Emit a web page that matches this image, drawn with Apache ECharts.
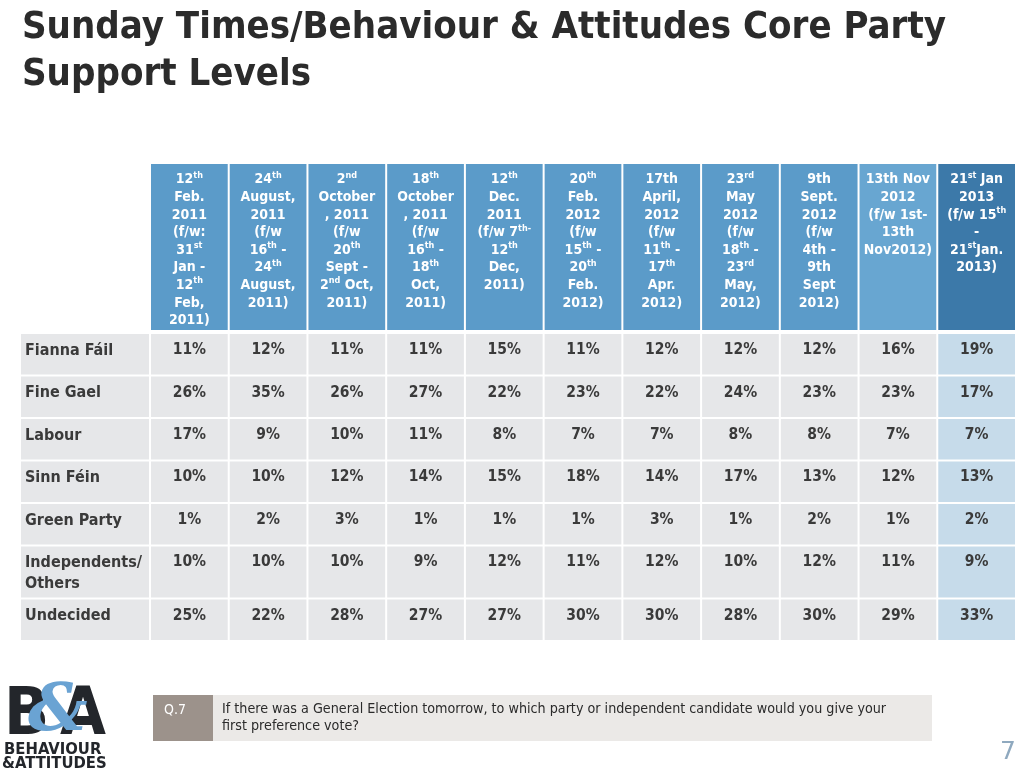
<!DOCTYPE html>
<html>
<head>
<meta charset="utf-8">
<script src="https://cdn.jsdelivr.net/npm/echarts@6/dist/echarts.min.js"></script>
<style>
html,body{margin:0;padding:0;background:#fff;}
#main{width:1024px;height:773px;}
</style>
</head>
<body>
<div id="main"></div>
<script>
// ---- data ----
var pollDates = ['12th Feb. 2011','24th August, 2011','2nd October, 2011','18th October, 2011','12th Dec. 2011','20th Feb. 2012','17th April, 2012','23rd May 2012','9th Sept. 2012','13th Nov 2012','21st Jan 2013'];
var headerLines = [
  ['12{s|th}','Feb.','2011','(f/w:','31{s|st}','Jan -','12{s|th}','Feb,','2011)'],
  ['24{s|th}','August,','2011','(f/w','16{s|th} -','24{s|th}','August,','2011)'],
  ['2{s|nd}','October',', 2011','(f/w','20{s|th}','Sept -','2{s|nd} Oct,','2011)'],
  ['18{s|th}','October',', 2011','(f/w','16{s|th} -','18{s|th}','Oct,','2011)'],
  ['12{s|th}','Dec.','2011','(f/w 7{s|th-}','12{s|th}','Dec,','2011)'],
  ['20{s|th}','Feb.','2012','(f/w','15{s|th} -','20{s|th}','Feb.','2012)'],
  ['17th','April,','2012','(f/w','11{s|th} -','17{s|th}','Apr.','2012)'],
  ['23{s|rd}','May','2012','(f/w','18{s|th} -','23{s|rd}','May,','2012)'],
  ['9th','Sept.','2012','(f/w','4th -','9th','Sept','2012)'],
  ['13th Nov','2012','(f/w 1st-','13th','Nov2012)'],
  ['21{s|st} Jan','2013','(f/w 15{s|th}','-','21{s|st}Jan.','2013)']
];
var parties = ['Fianna Fáil','Fine Gael','Labour','Sinn Féin','Green Party','Independents/\nOthers','Undecided'];
var fiannaFail   = [11,12,11,11,15,11,12,12,12,16,19];
var fineGael     = [26,35,26,27,22,23,22,24,23,23,17];
var labour       = [17,9,10,11,8,7,7,8,8,7,7];
var sinnFein     = [10,10,12,14,15,18,14,17,13,12,13];
var greenParty   = [1,2,3,1,1,1,3,1,2,1,2];
var independents = [10,10,10,9,12,11,12,10,12,11,9];
var undecided    = [25,22,28,27,27,30,30,28,30,29,33];
var partyValues = [fiannaFail, fineGael, labour, sinnFein, greenParty, independents, undecided];

// ---- layout (not data) ----
var rowWeights = [1,1,1,1,1,1.25,1];
var rowStart = [];
(function(){ var s = 0; for (var i = 0; i < rowWeights.length; i++) { rowStart.push(s); s += rowWeights[i]; } })();
var rowTotal = rowStart[rowStart.length-1] + rowWeights[rowWeights.length-1];

var FONT = '"DejaVu Sans Condensed", "DejaVu Sans", sans-serif';
var headerFills = ['#5b9bc9','#5b9bc9','#5b9bc9','#5b9bc9','#5b9bc9','#5b9bc9','#5b9bc9','#5b9bc9','#5b9bc9','#68a6d1','#3c79a9'];

var headerData = pollDates.map(function(d, i){ return [i, 0]; });
var cellData = [];
partyValues.forEach(function(arr, r){ arr.forEach(function(v, c){ cellData.push([c, r, v]); }); });
var labelData = parties.map(function(p, r){ return [0, r]; });

function renderHeader(params, api) {
  var c = api.value(0);
  var p = api.coord([c, 0]);
  var sz = api.size([1, 1]);
  var w = sz[0], h = sz[1];
  var x = p[0] - w/2, y = p[1] - h/2;
  return {type:'group', children:[
    {type:'rect', shape:{x:x+1, y:y, width:w-2, height:h}, style:{fill:headerFills[c]}},
    {type:'text', x: x + w/2, y: y + 7, style:{
      text: headerLines[c].map(function(l){ return '{n|' + l.replace(/\{s\|([^}]*)\}/g, '}{s|$1}{n|') + '}'; }).join('\n'),
      align:'center', verticalAlign:'top',
      rich:{
        n:{fontFamily:FONT, fontWeight:'bold', fontSize:14, lineHeight:17.6, fill:'#ffffff', color:'#ffffff'},
        s:{fontFamily:FONT, fontWeight:'bold', fontSize:9, lineHeight:17.6, verticalAlign:'top', fill:'#ffffff', color:'#ffffff'}
      }
    }}
  ]};
}

function renderCell(params, api) {
  var c = api.value(0), r = api.value(1);
  var p0 = api.coord([c, rowStart[r]]);
  var p1 = api.coord([c, rowStart[r] + rowWeights[r]]);
  var w = api.size([1, 0])[0];
  var x = p0[0] - w/2;
  return {type:'group', children:[
    {type:'rect', shape:{x:x+1, y:p0[1]+1, width:w-2, height:p1[1]-p0[1]-2}, style:{fill: c === 10 ? '#c6dbea' : '#e6e7e9'}},
    {type:'text', x: x + w/2, y: p0[1] + 17, style:{text: api.value(2) + '%', align:'center', verticalAlign:'middle', font:'bold 15.5px ' + FONT, fill:'#3a3a3a'}}
  ]};
}

function renderLabel(params, api) {
  var r = api.value(1);
  var p0 = api.coord([0, rowStart[r]]);
  var p1 = api.coord([0, rowStart[r] + rowWeights[r]]);
  var w = api.size([1, 0])[0];
  var x = p0[0] - w/2;
  return {type:'group', children:[
    {type:'rect', shape:{x:x+1, y:p0[1]+1, width:w-2, height:p1[1]-p0[1]-2}, style:{fill:'#e6e7e9'}},
    {type:'text', x: x + 5, y: p0[1] + 7, style:{text: parties[r], align:'left', verticalAlign:'top', font:'bold 16px ' + FONT, lineHeight:21, fill:'#3a3a3a'}}
  ]};
}

var chart = echarts.init(document.getElementById('main'), null, {renderer:'canvas'});
chart.setOption({
  backgroundColor:'#ffffff',
  animation:false,
  title:{
    text:'Sunday Times/Behaviour & Attitudes Core Party\nSupport Levels',
    left:17, top:0,
    textStyle:{fontFamily:FONT, fontSize:38, fontWeight:'bold', lineHeight:47, color:'#2b2b2b'}
  },
  grid:[
    {left:150, right:8, top:164, height:166},
    {left:150, right:8, top:333, height:308},
    {left:20, width:130, top:333, height:308}
  ],
  xAxis:[
    {type:'category', gridIndex:0, data:pollDates, show:false},
    {type:'category', gridIndex:1, data:pollDates, show:false},
    {type:'category', gridIndex:2, data:['Party'], show:false}
  ],
  yAxis:[
    {type:'category', gridIndex:0, data:['Poll'], show:false},
    {type:'value', gridIndex:1, min:0, max:rowTotal, inverse:true, show:false},
    {type:'value', gridIndex:2, min:0, max:rowTotal, inverse:true, show:false}
  ],
  series:[
    {type:'custom', xAxisIndex:0, yAxisIndex:0, data:headerData, renderItem:renderHeader, encode:{x:0, y:1}},
    {type:'custom', xAxisIndex:1, yAxisIndex:1, data:cellData, renderItem:renderCell, encode:{x:0, y:1}},
    {type:'custom', xAxisIndex:2, yAxisIndex:2, data:labelData, renderItem:renderLabel, encode:{x:0, y:1}}
  ],
  graphic:[
    {type:'rect', left:153, top:695, shape:{width:60, height:46}, style:{fill:'#9c928b'}},
    {type:'rect', left:213, top:695, shape:{width:719, height:46}, style:{fill:'#ebe9e7'}},
    {type:'text', left:164, top:703, style:{text:'Q.7', font:'14px "DejaVu Sans Condensed", sans-serif', fill:'#ffffff'}},
    {type:'text', left:222, top:701, style:{text:'If there was a General Election tomorrow, to which party or independent candidate would you give your\nfirst preference vote?', font:'14.2px "DejaVu Sans Condensed", sans-serif', lineHeight:17, fill:'#2b2b2b'}},
    {type:'text', left:4, top:684, style:{text:'B', font:'bold 66px "DejaVu Sans Condensed", sans-serif', fill:'#23262b'}},
    {type:'text', left:60, top:684, style:{text:'A', font:'bold 66px "DejaVu Sans Condensed", sans-serif', fill:'#23262b'}},
    {type:'text', left:28, top:680, style:{text:'&', font:'bold italic 66px "DejaVu Serif", serif', fill:'#6aa3d3'}},
    {type:'text', left:4, top:741, style:{text:'BEHAVIOUR', font:'bold 16.5px "DejaVu Sans Condensed", sans-serif', fill:'#23262b'}},
    {type:'text', left:2, top:755, style:{text:'&ATTITUDES', font:'bold 16.5px "DejaVu Sans Condensed", sans-serif', fill:'#23262b'}},
    {type:'text', left:1000, top:740, style:{text:'7', font:'25px "DejaVu Sans", sans-serif', fill:'#8fa9bf'}}
  ]
});
</script>
</body>
</html>
